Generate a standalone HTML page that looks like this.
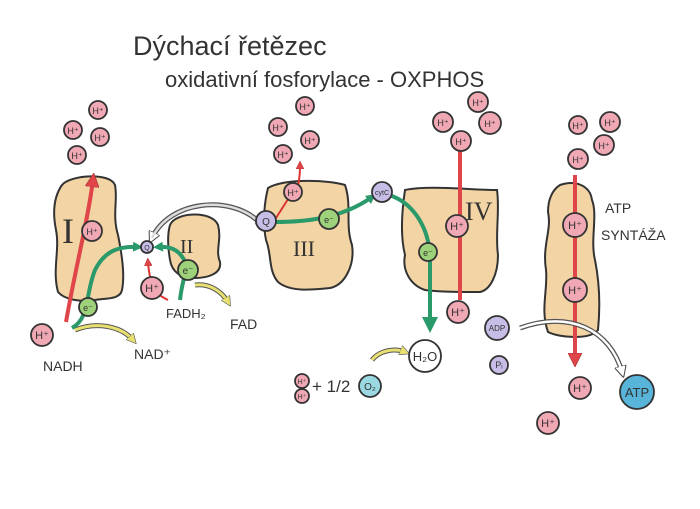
<!DOCTYPE html>
<html><head><meta charset="utf-8"><style>
html,body{margin:0;padding:0;background:#fff;width:700px;height:509px;overflow:hidden}
svg text{font-family:"Liberation Sans","DejaVu Sans",sans-serif;fill:#333}
</style></head><body>
<svg width="700" height="509" viewBox="0 0 700 509" xmlns="http://www.w3.org/2000/svg">
<defs>
<marker id="ar" markerWidth="8" markerHeight="8" refX="4" refY="4" orient="auto" markerUnits="userSpaceOnUse" viewBox="0 0 8 8"><path d="M0,0 L8,4 L0,8z" fill="#e0454a" stroke="#a33" stroke-width="0.5"/></marker>
<marker id="arB" markerWidth="14" markerHeight="14" refX="7" refY="7" orient="auto" markerUnits="userSpaceOnUse" viewBox="0 0 14 14"><path d="M0,0 L14,7 L0,14z" fill="#e0454a" stroke="#a33" stroke-width="0.7"/></marker>
<marker id="ag" markerWidth="10" markerHeight="10" refX="5" refY="5" orient="auto" markerUnits="userSpaceOnUse" viewBox="0 0 10 10"><path d="M0,0 L10,5 L0,10z" fill="#2a9a6a"/></marker>
<marker id="agB" markerWidth="16" markerHeight="16" refX="8" refY="8" orient="auto" markerUnits="userSpaceOnUse" viewBox="0 0 16 16"><path d="M0,0 L16,8 L0,16z" fill="#2a9a6a"/></marker>
<marker id="ay" markerWidth="10" markerHeight="10" refX="5" refY="5" orient="auto" markerUnits="userSpaceOnUse" viewBox="0 0 10 10"><path d="M0,0 L10,5 L0,10z" fill="#e8e070" stroke="#555" stroke-width="0.6"/></marker>
<marker id="aw" markerWidth="12" markerHeight="12" refX="6" refY="6" orient="auto" markerUnits="userSpaceOnUse" viewBox="0 0 12 12"><path d="M0,0 L12,6 L0,12z" fill="#fff" stroke="#444" stroke-width="1"/></marker>
</defs>
<rect width="700" height="509" fill="#fff"/>
<text x="133" y="55" font-size="27" fill="#333">Dýchací  řetězec</text>
<text x="165" y="87" font-size="22">oxidativní fosforylace - OXPHOS</text>

<!-- complexes -->
<g fill="#f3d4a4" stroke="#333" stroke-width="2">
<path d="M62,185 C70,175 110,172 115,185 C118,200 112,215 118,235 C122,255 125,275 122,290 C120,300 105,298 95,300 C80,302 65,300 58,292 C52,270 60,250 56,230 C52,210 55,195 62,185Z"/>
<path d="M170,225 C175,212 212,210 218,225 C222,240 215,250 220,262 C222,275 205,278 195,278 C180,278 172,272 170,260 C168,248 167,235 170,225Z"/>
<path d="M268,188 C285,178 330,180 345,185 C352,205 345,225 352,245 C355,265 345,285 330,288 C310,290 290,292 278,282 C268,270 272,255 266,240 C262,220 265,200 268,188Z"/>
<path d="M405,190 C430,185 470,190 497,190 C500,210 495,235 498,255 C498,275 490,290 480,292 C460,292 440,292 425,290 C410,285 402,270 405,255 C400,235 402,210 405,190Z"/>
<path d="M560,185 C575,180 590,185 592,200 C598,215 590,240 595,260 C600,285 600,310 598,330 C590,340 560,338 548,332 C540,310 548,290 546,270 C542,245 552,230 548,212 C548,200 552,190 560,185Z"/>
</g>
<text x="62" y="243" font-size="36" font-family="Liberation Serif" fill="#333" style="font-family:'Liberation Serif',serif">I</text>
<text x="180" y="253" font-size="20" style="font-family:'Liberation Serif',serif">II</text>
<text x="293" y="256" font-size="22" style="font-family:'Liberation Serif',serif">III</text>
<text x="465" y="220" font-size="26" style="font-family:'Liberation Serif',serif">IV</text>
<text x="605" y="213" font-size="14">ATP</text>
<text x="601" y="240" font-size="14">SYNTÁŽA</text>

<!-- red arrows -->
<g fill="none" stroke="#e0454a" stroke-width="4">
<path d="M66,322 C75,270 88,220 93,180" marker-end="url(#arB)"/>
<path d="M460,300 L460,140" marker-end="url(#arB)"/>
<path d="M575,175 L575,360" marker-end="url(#arB)"/>
</g>
<g fill="none" stroke="#d33" stroke-width="2">
<path d="M292,200 C298,190 300,180 300,165" marker-end="url(#ar)"/>
<path d="M168,300 C158,295 150,290 148,262" marker-end="url(#ar)"/>
<path d="M276,218 L290,196"/>
</g>
<!-- grey arrows -->
<path d="M258,221 C230,195 170,200 152,238" fill="none" stroke="#555" stroke-width="5" marker-end="url(#aw)"/>
<path d="M258,221 C230,195 170,200 152,238" fill="none" stroke="#ddd" stroke-width="2.5"/>
<path d="M255,224 L262,220" stroke="#555" stroke-width="1"/>
<path d="M520,328 C570,310 610,330 622,372" fill="none" stroke="#555" stroke-width="5" marker-end="url(#aw)"/>
<path d="M520,328 C570,310 610,330 622,372" fill="none" stroke="#fff" stroke-width="2.5"/>
<!-- yellow arrows -->
<g fill="none" stroke="#555" stroke-width="5"><path d="M75,330 C95,322 120,325 133,340"/><path d="M195,285 C210,283 222,292 228,302"/><path d="M372,360 C380,350 395,348 405,352"/></g>
<g fill="none" stroke="#e8e070" stroke-width="3">
<path d="M75,330 C95,322 120,325 133,340" marker-end="url(#ay)"/>
<path d="M195,285 C210,283 222,292 228,302" marker-end="url(#ay)"/>
<path d="M372,360 C380,350 395,348 405,352" marker-end="url(#ay)"/>
</g>
<!-- green arrows -->
<g fill="none" stroke="#2a9a6a" stroke-width="4">
<path d="M72,328 C90,318 85,295 95,270 C105,250 120,246 138,247" marker-end="url(#ag)"/>
<path d="M180,300 C182,280 188,270 185,262 C180,250 170,246 158,247" marker-end="url(#ag)"/>
<path d="M275,222 C300,222 340,220 372,197" marker-end="url(#ag)"/>
<path d="M392,196 C415,205 430,230 430,260 L430,325" marker-end="url(#agB)"/>
</g>

<!-- molecules -->
<g stroke="#333" stroke-width="1.8">
<g fill="#f0a8b4">
<circle cx="98" cy="110" r="9"/><circle cx="73" cy="130" r="9"/><circle cx="100" cy="137" r="9"/><circle cx="77" cy="155" r="9"/>
<circle cx="92" cy="231" r="10"/><circle cx="42" cy="335" r="11"/><circle cx="152" cy="288" r="11"/>
<circle cx="305" cy="106" r="9"/><circle cx="278" cy="127" r="9"/><circle cx="310" cy="140" r="9"/><circle cx="283" cy="154" r="9"/>
<circle cx="293" cy="192" r="9"/>
<circle cx="478" cy="102" r="10"/><circle cx="443" cy="122" r="10"/><circle cx="490" cy="123" r="11"/><circle cx="461" cy="141" r="10"/>
<circle cx="457" cy="226" r="11"/><circle cx="458" cy="312" r="11"/>
<circle cx="578" cy="125" r="9"/><circle cx="610" cy="122" r="10"/><circle cx="604" cy="145" r="10"/><circle cx="578" cy="159" r="10"/>
<circle cx="575" cy="225" r="12"/><circle cx="575" cy="290" r="12"/><circle cx="580" cy="388" r="11"/><circle cx="548" cy="423" r="11"/>
<circle cx="302" cy="381" r="7"/><circle cx="302" cy="396" r="7"/>
</g>
<g fill="#9ed27a"><circle cx="88" cy="307" r="9"/><circle cx="188" cy="270" r="10"/><circle cx="329" cy="219" r="10"/><circle cx="428" cy="252" r="9"/></g>
<g fill="#c8bde6"><circle cx="147" cy="247" r="6"/><circle cx="266" cy="221" r="10"/><circle cx="382" cy="192" r="10"/><circle cx="497" cy="328" r="12"/><circle cx="499" cy="365" r="9"/></g>
<circle cx="425" cy="356" r="16" fill="#fff"/>
<circle cx="370" cy="386" r="11" fill="#9ad8e2"/>
<circle cx="637" cy="392" r="17" fill="#58b4d8"/>
</g>
<g font-size="9" text-anchor="middle">
<text x="98" y="114">H⁺</text><text x="73" y="134">H⁺</text><text x="100" y="141">H⁺</text><text x="77" y="159">H⁺</text>
<text x="92" y="235">H⁺</text><text x="42" y="339" font-size="11">H⁺</text><text x="152" y="292" font-size="11">H⁺</text>
<text x="305" y="110">H⁺</text><text x="278" y="131">H⁺</text><text x="310" y="144">H⁺</text><text x="283" y="158">H⁺</text><text x="293" y="196">H⁺</text>
<text x="478" y="106">H⁺</text><text x="443" y="126">H⁺</text><text x="490" y="127">H⁺</text><text x="461" y="145">H⁺</text>
<text x="457" y="230" font-size="11">H⁺</text><text x="458" y="316" font-size="11">H⁺</text>
<text x="578" y="129">H⁺</text><text x="610" y="126">H⁺</text><text x="604" y="149">H⁺</text><text x="578" y="163">H⁺</text>
<text x="575" y="229" font-size="11">H⁺</text><text x="575" y="294" font-size="11">H⁺</text><text x="580" y="392" font-size="11">H⁺</text><text x="548" y="427" font-size="11">H⁺</text>
<text x="302" y="384" font-size="7">H⁺</text><text x="302" y="399" font-size="7">H⁺</text>
<text x="88" y="311">e⁻</text><text x="188" y="274" font-size="10">e⁻</text><text x="329" y="223">e⁻</text><text x="428" y="256">e⁻</text>
<text x="147" y="250" font-size="7">Q</text><text x="266" y="225" font-size="10">Q</text><text x="382" y="195" font-size="7">cytC</text>
<text x="497" y="331" font-size="8">ADP</text><text x="499" y="368" font-size="9">Pᵢ</text>
<text x="425" y="361" font-size="13">H₂O</text><text x="370" y="390" font-size="10">O₂</text><text x="637" y="397" font-size="13">ATP</text>
</g>
<text x="43" y="371" font-size="14">NADH</text>
<text x="134" y="359" font-size="14">NAD⁺</text>
<text x="166" y="318" font-size="13">FADH₂</text>
<text x="230" y="329" font-size="14">FAD</text>
<text x="312" y="392" font-size="17">+ 1/2</text>
</svg>
</body></html>
